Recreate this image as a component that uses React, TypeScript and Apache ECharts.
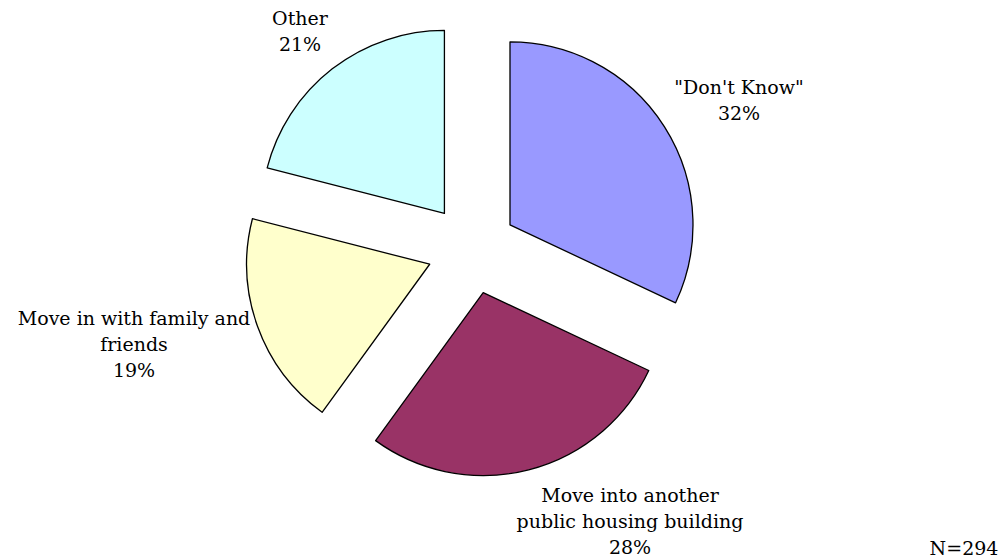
import React, { useEffect, useRef } from "react";
import * as echarts from "echarts";

const categories = [
  '"Don\'t Know"',
  "Move into another\npublic housing building",
  "Move in with family and\nfriends",
  "Other",
];
const values = [32, 28, 19, 21];
const colors = ["#9999FF", "#993366", "#FFFFCC", "#CCFFFF"];
const footnote = "N=294";

// label block centres (layout only)
const labelPos = [
  [739, 100],
  [630, 521],
  [134, 344],
  [300, 31],
];

const FONT = "'DejaVu Serif', serif";
const FS = 19;

export default function App() {
  const ref = useRef<HTMLDivElement>(null);
  useEffect(() => {
    document.body.style.margin = "0";
    const chart = echarts.init(ref.current!, null, { renderer: "svg" });
    const total = values.reduce((a, b) => a + b, 0);
    const labels = categories.map((name, i) => ({
      type: "text",
      x: labelPos[i][0],
      y: labelPos[i][1],
      silent: true,
      style: {
        text: `${name}\n${Math.round((values[i] / total) * 100)}%`,
        font: `${FS}px ${FONT}`,
        lineHeight: 26,
        fill: "#000",
        align: "center",
        verticalAlign: "middle",
      },
    }));
    chart.setOption({
      animation: false,
      backgroundColor: "#ffffff",
      graphic: [
        ...labels,
        {
          type: "text",
          x: 964,
          y: 548,
          silent: true,
          style: {
            text: footnote,
            font: `${FS}px ${FONT}`,
            fill: "#000",
            align: "center",
            verticalAlign: "middle",
          },
        },
      ],
      series: [
        {
          type: "pie",
          center: [472, 249],
          radius: [0, 183],
          startAngle: 90,
          clockwise: true,
          selectedMode: "multiple",
          selectedOffset: 45,
          silent: true,
          emphasis: { disabled: true },
          itemStyle: { borderColor: "#000", borderWidth: 1.3 },
          label: { show: false },
          labelLine: { show: false },
          data: categories.map((name, i) => ({
            name,
            value: values[i],
            selected: true,
            itemStyle: { color: colors[i] },
            select: { itemStyle: { color: colors[i], borderColor: "#000", borderWidth: 1.3 } },
          })),
        },
      ],
    });
    return () => chart.dispose();
  }, []);
  return <div ref={ref} style={{ width: 1004, height: 560 }} />;
}
